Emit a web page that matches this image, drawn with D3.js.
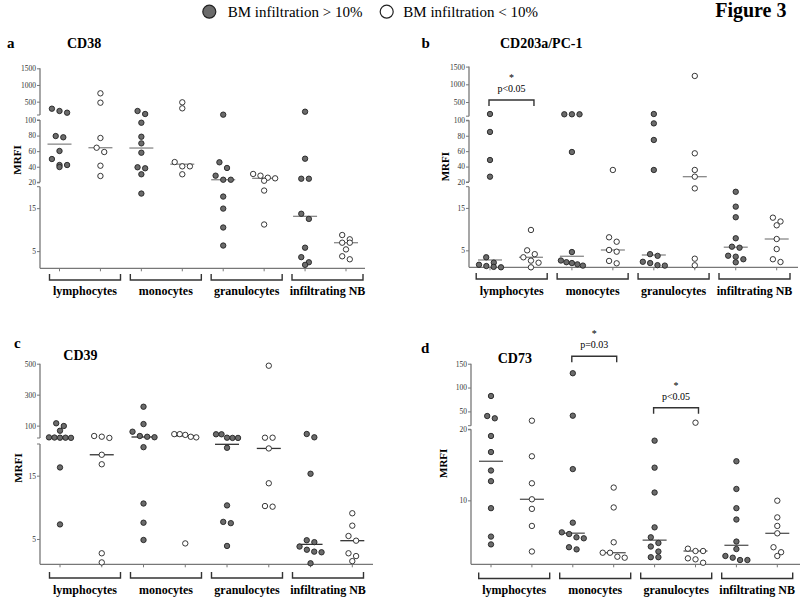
<!DOCTYPE html>
<meta charset="utf-8">
<script src="https://d3js.org/d3.v7.min.js"></script>
<style>
  body { margin: 0; background: #fff; }
  svg text { font-family: "Liberation Serif", "Times New Roman", serif; }
</style>
<div id="fig"></div>
<script>

// cell populations (x groups), each has a >10% and a <10% BM infiltration column
var cellTypes = ["lymphocytes", "monocytes", "granulocytes", "infiltrating NB"];

// MRFI values, one array per cell type
var cd38High = [[289, 220, 169, 79.4, 77.8, 60.2, 49.9, 42.2, 42.2, 39.6],
                [220, 130, 96.5, 78.5, 70, 58, 39.3, 38, 30.3, 18.4],
                [110, 45.7, 38.4, 28.5, 23.3, 23.3, 17.7, 14.9, 10.5, 6.3],
                [199, 50.3, 24.6, 24.6, 13.7, 12.5, 5.8, 3.6, 2.4, 1.8]];
var cd38Low  = [[750, 469, 76.9, 64.4, 58.9, 41.3, 28.1],
                [480, 300, 46, 40.5, 40.5, 30.3],
                [30.7, 28.5, 25.9, 25.1, 22, 19.1, 11.2],
                [8.75, 7.75, 6.96, 6.96, 5.4, 3.8, 3.1]];

var cd203High = [[162, 84.9, 48.5, 26.9, 3.36, 2.1, 1.6, 1.3, 1.1, 1.0],
                 [154, 154, 154, 58.9, 4.6, 2.6, 2.2, 2.0, 1.7, 1.4],
                 [162, 96, 74.5, 35.6, 4.1, 3.7, 2.3, 2.0, 1.5, 1.4],
                 [18.8, 15.3, 12.8, 7.84, 5.86, 5.62, 3.73, 3.5, 2.9, 2.18]];
var cd203Low  = [[9.8, 5.0, 4.1, 3.36, 2.57, 2.08, 1.0],
                 [35.6, 8.07, 7.03, 5.08, 4.68, 2.5, 1.94],
                 [1236, 57.2, 35.6, 26.9, 19.6, 3.03, 1.47],
                 [12.7, 11.8, 10.9, 7.67, 5.3, 2.9, 2.25]];

var cd39High = [[115, 97.5, 67, 24, 23, 22, 22, 21, 16.3, 7.3],
                [222, 110, 60.7, 33, 28, 25, 19.5, 10.6, 7.57, 4.84],
                [44, 44, 22, 20.5, 20.5, 19.4, 10.3, 7.7, 7.5, 3.9],
                [45.8, 24.5, 15.3, 4.8, 4.5, 3.8, 3.3, 3.0, 2.9, 1.16]];
var cd39Low  = [[32.9, 28.4, 20.5, 18.3, 16.8, 2.74, 1.3],
                [45, 45, 40, 28, 24, 4.3],
                [487, 22, 22, 19.3, 13.8, 10.2, 10.1],
                [9.06, 7.1, 5.47, 4.73, 2.74, 2.3, 1.5]];

var cd73High = [[82.3, 40.3, 35.5, 19.06, 16.8, 14.2, 12.7, 8.9, 4.9, 3.8],
                [130, 41, 14.4, 6.86, 5.5, 5.26, 4.8, 4.66, 3.4, 3.1],
                [18.4, 14.6, 11.1, 6.2, 4.8, 4.0, 3.5, 2.8, 2.0, 2.0],
                [15.5, 11.6, 8.9, 7.3, 4.2, 3.15, 2.17, 1.93, 1.6, 1.6]];
var cd73Low  = [[30.5, 16.2, 12.4, 10.15, 8.8, 6.4, 2.8],
                [11.8, 9.0, 4.1, 2.63, 2.63, 2.07, 1.93],
                [26.3, 3.2, 2.87, 2.87, 1.84, 1.7, 1.22],
                [9.95, 7.6, 6.4, 5.36, 3.4, 2.7, 2.17]];

// y tick labels
var cd38Ticks  = [5, 15, 20, 40, 60, 80, 100, 500, 1000, 1500];
var cd203Ticks = [5, 15, 20, 40, 60, 80, 100, 500, 1000, 1500];
var cd39Ticks  = [5, 15, 100, 300, 500];
var cd73Ticks  = [10, 20, 50, 100, 150];

// significance brackets: [first column, second column, label]
var cd203Sig = [[0, 1, "p<0.05"]];
var cd73Sig  = [[2, 3, "p=0.03"], [4, 5, "p<0.05"]];

var legendLabels = ["BM infiltration > 10%", "BM infiltration < 10%"];

var svg = d3.select("#fig")
  .append("svg")
    .attr("width", 800)
    .attr("height", 597);

// broken y axes: domain is pairs of [low, high] per axis segment
var panels = [
  {letter: "a", title: "CD38", high: cd38High, low: cd38Low, ticks: cd38Ticks, sig: [], sigTop: [],
   domain: [1, 19.999, 20, 100, 100.001, 1500], range: [268.3, 186.7, 182.3, 120, 115, 68.3],
   axisX: 40, xEnd: 365, cols: [59.5, 346], brk: [85, 327.5], brkTop: 274, labelY: 294.5,
   letterPos: [7, 48], titlePos: [67, 47.5], mrfi: [17, 160], medColor: "#888"},
  {letter: "b", title: "CD203a/PC-1", high: cd203High, low: cd203Low, ticks: cd203Ticks, sig: cd203Sig, sigTop: [100],
   domain: [1, 19.999, 20, 100, 100.001, 1500], range: [267.3, 186.7, 182, 120.3, 116.2, 66.6],
   axisX: 469, xEnd: 798, cols: [490, 776.7], brk: [511.7, 754.5], brkTop: 273, labelY: 294.5,
   letterPos: [421.5, 48], titlePos: [500, 47.5], mrfi: [445, 166.7], medColor: "#888"},
  {letter: "c", title: "CD39", high: cd39High, low: cd39Low, ticks: cd39Ticks, sig: [], sigTop: [],
   domain: [1, 20, 20.001, 500], range: [564.3, 444, 438, 363.7],
   axisX: 40, xEnd: 373, cols: [60, 352.3], brk: [85, 328], brkTop: 572, labelY: 593.5,
   letterPos: [14, 348], titlePos: [63.3, 360], mrfi: [18, 468], medColor: "#333"},
  {letter: "d", title: "CD73", high: cd73High, low: cd73Low, ticks: cd73Ticks, sig: cd73Sig, sigTop: [356.3, 407.7],
   domain: [1, 20, 20.001, 150], range: [564.3, 429.3, 425.7, 363.7],
   axisX: 471, xEnd: 800, cols: [491, 777.3], brk: [514.2, 757.2], brkTop: 572.5, labelY: 593.5,
   letterPos: [421, 353], titlePos: [497.7, 363], mrfi: [443.5, 463.3], medColor: "#555"}
];

// Prism-like scatter: points of similar height share a row, centred on the column
function rowLayout(vals, y, cx) {
  var pts = vals.map(function(v) { return {v: v, y: y(v)}; })
    .sort(function(a, b) { return a.y - b.y; });
  var rows = [], cur = null;
  pts.forEach(function(p) {
    if (cur && p.y - cur[0].y < 6) cur.push(p);
    else { cur = [p]; rows.push(cur); }
  });
  rows.forEach(function(r) {
    var n = r.length, sp = n > 1 ? Math.min(7.6, 22 / (n - 1)) : 0;
    r.forEach(function(p, i) { p.x = cx + (i - (n - 1) / 2) * sp; });
  });
  return pts;
}

panels.forEach(function(P) {
  var g = svg.append("g");

  var y = d3.scaleLinear().domain(P.domain).range(P.range);

  var colKeys = [];
  cellTypes.forEach(function(c) { colKeys.push(c + "|high"); colKeys.push(c + "|low"); });
  var x = d3.scalePoint().domain(colKeys).range(P.cols);
  var xb = d3.scalePoint().domain(cellTypes).range(P.brk);

  // y axis ticks + labels
  var yAxis = d3.axisLeft(y).tickValues(P.ticks).tickSize(3).tickPadding(1).tickFormat(d3.format("d"));
  var ax = g.append("g")
    .attr("transform", "translate(" + P.axisX + ",0)")
    .call(yAxis);
  ax.select(".domain").remove();
  ax.selectAll("line").attr("stroke", "#777").attr("stroke-width", 1);
  ax.selectAll("text")
    .style("font-family", "'Liberation Serif', serif")
    .style("font-size", "7.5px")
    .attr("fill", "#333");

  // broken axis line segments
  for (var s = 0; s < P.domain.length; s += 2) {
    var y0 = y(P.domain[s]), y1 = y(P.domain[s + 1]);
    g.append("line")
      .attr("x1", P.axisX).attr("x2", P.axisX)
      .attr("y1", y0).attr("y2", y1)
      .attr("stroke", "#777").attr("stroke-width", 1.3);
    if (s > 0) {
      g.append("line")
        .attr("x1", P.axisX - 3).attr("x2", P.axisX)
        .attr("y1", y0).attr("y2", y0)
        .attr("stroke", "#777");
    }
    if (s + 2 < P.domain.length) {
      g.append("line")
        .attr("x1", P.axisX - 3).attr("x2", P.axisX)
        .attr("y1", y1).attr("y2", y1)
        .attr("stroke", "#777");
    }
  }

  // bottom axis
  var yb = P.range[0];
  g.append("line")
    .attr("x1", P.axisX).attr("x2", P.xEnd)
    .attr("y1", yb).attr("y2", yb)
    .attr("stroke", "#777").attr("stroke-width", 1.3);
  g.selectAll("line.xt")
    .data(colKeys)
    .enter()
    .append("line")
      .attr("class", "xt")
      .attr("x1", function(d) { return x(d); })
      .attr("x2", function(d) { return x(d); })
      .attr("y1", yb).attr("y2", yb + 3)
      .attr("stroke", "#777");

  // group brackets and labels
  cellTypes.forEach(function(c) {
    var cx = xb(c);
    g.append("path")
      .attr("d", "M" + (cx - 35.5) + "," + P.brkTop + "V" + (P.brkTop + 6) +
                 "H" + (cx + 35.5) + "V" + P.brkTop)
      .attr("fill", "none")
      .attr("stroke", "#333")
      .attr("stroke-width", 1.4);
    g.append("text")
      .attr("x", cx).attr("y", P.labelY)
      .attr("text-anchor", "middle")
      .style("font-size", "12px")
      .style("font-weight", "bold")
      .text(c);
  });

  // points and medians
  cellTypes.forEach(function(c, ci) {
    [["high", P.high[ci]], ["low", P.low[ci]]].forEach(function(grp) {
      var cx = x(c + "|" + grp[0]);
      var pts = rowLayout(grp[1], y, cx);
      var med = y(d3.median(grp[1]));
      g.append("line")
        .attr("x1", cx - 12).attr("x2", cx + 12)
        .attr("y1", med).attr("y2", med)
        .attr("stroke", P.medColor)
        .attr("stroke-width", 1.3);
      g.selectAll(null)
        .data(pts)
        .enter()
        .append("circle")
          .attr("cx", function(d) { return d.x; })
          .attr("cy", function(d) { return d.y; })
          .attr("r", 2.7)
          .attr("fill", grp[0] == "high" ? "#6b6b6b" : "#fff")
          .attr("stroke", "#222")
          .attr("stroke-width", 0.9);
    });
  });

  // significance brackets
  P.sig.forEach(function(sg, si) {
    var xa = x(colKeys[sg[0]]) - 1, xc = x(colKeys[sg[1]]) + 3;
    var top = P.sigTop[si];
    g.append("path")
      .attr("d", "M" + xa + "," + (top + 6) + "V" + top + "H" + xc + "V" + (top + 6))
      .attr("fill", "none")
      .attr("stroke", "#333")
      .attr("stroke-width", 1.4);
    g.append("text")
      .attr("x", (xa + xc) / 2).attr("y", top - 8)
      .attr("text-anchor", "middle")
      .style("font-size", "10px")
      .text(sg[2]);
    g.append("text")
      .attr("x", (xa + xc) / 2).attr("y", top - 19)
      .attr("text-anchor", "middle")
      .style("font-size", "10px")
      .text("*");
  });

  // panel letter, title, y label
  g.append("text")
    .attr("x", P.letterPos[0]).attr("y", P.letterPos[1])
    .style("font-size", "15px").style("font-weight", "bold")
    .text(P.letter);
  g.append("text")
    .attr("x", P.titlePos[0]).attr("y", P.titlePos[1])
    .style("font-size", "14px").style("font-weight", "bold")
    .text(P.title);
  g.append("text")
    .attr("transform", "translate(" + P.mrfi[0] + "," + P.mrfi[1] + ") rotate(-90)")
    .attr("text-anchor", "middle")
    .attr("dy", "0.35em")
    .style("font-size", "11px").style("font-weight", "bold")
    .text("MRFI");
});

// legend
var legend = svg.append("g");
[[209.3, "#6b6b6b", 227.7], [386.7, "#fff", 403.3]].forEach(function(l, i) {
  legend.append("circle")
    .attr("cx", l[0]).attr("cy", 11.7).attr("r", 6.5)
    .attr("fill", l[1]).attr("stroke", "#222").attr("stroke-width", 1.2);
  legend.append("text")
    .attr("x", l[2]).attr("y", 17)
    .style("font-size", "15px")
    .text(legendLabels[i]);
});

svg.append("text")
  .attr("x", 786.5).attr("y", 17)
  .attr("text-anchor", "end")
  .style("font-size", "20px").style("font-weight", "bold")
  .text("Figure 3");

</script>
